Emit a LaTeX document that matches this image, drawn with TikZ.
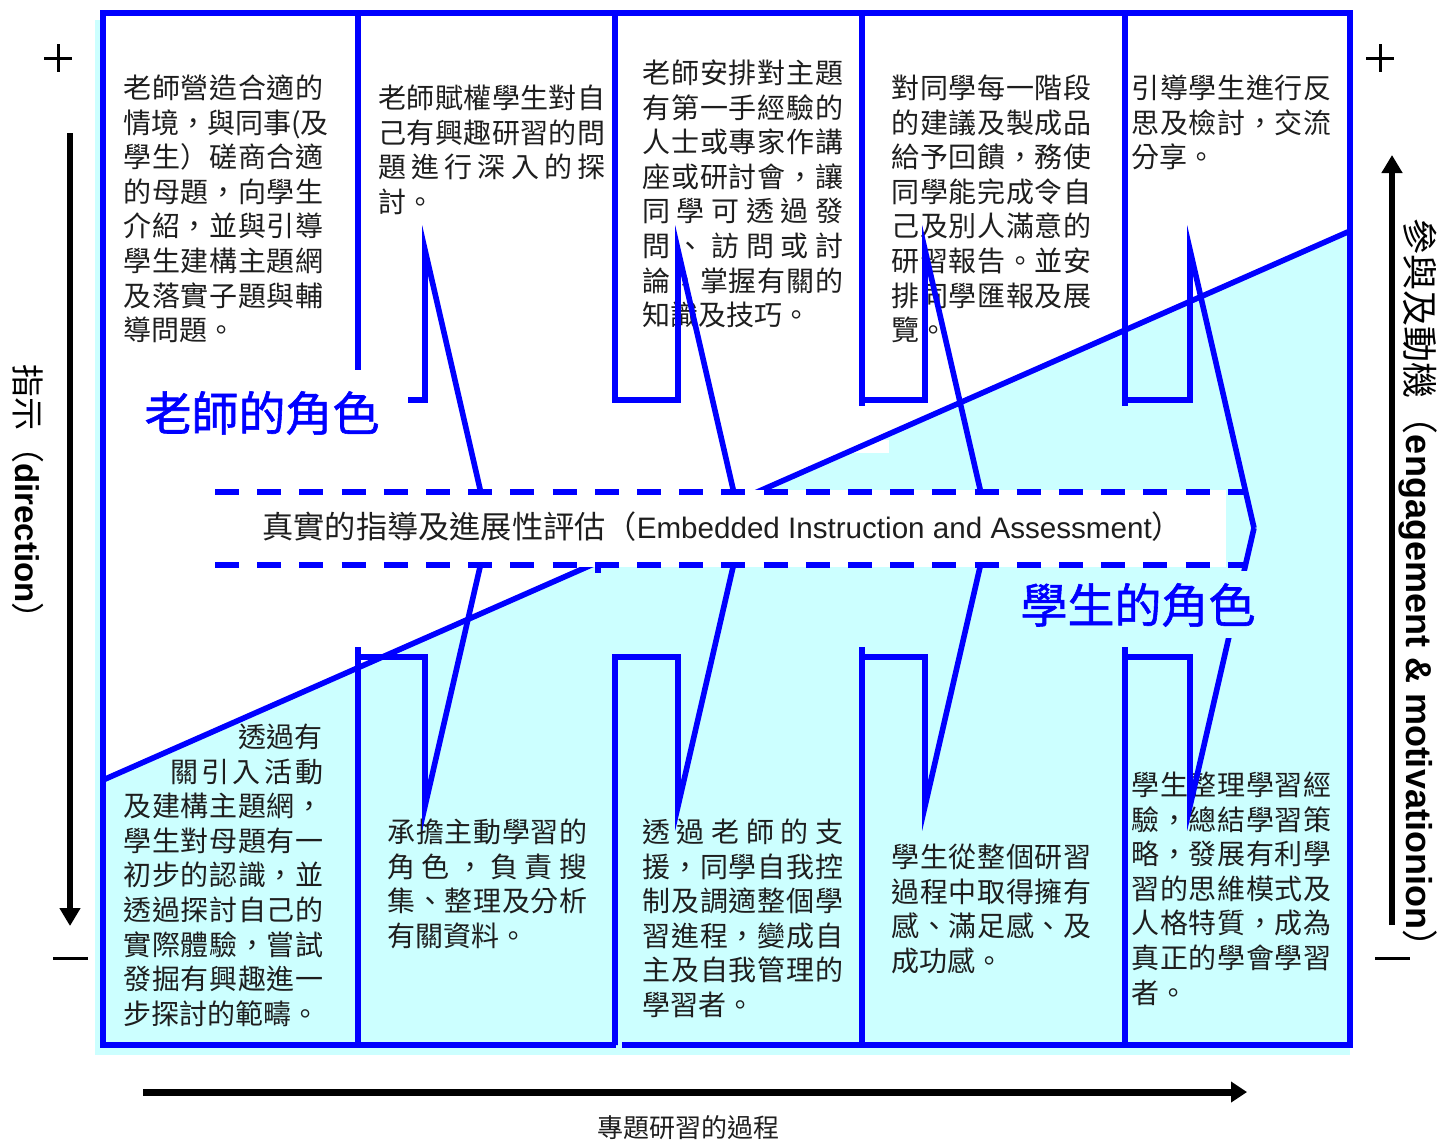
\documentclass[tikz,border=0pt]{standalone}
\usepackage{fontspec}
\setmainfont{Liberation Sans}
\newfontfamily\cjk{Noto Sans CJK TC}
\newfontfamily\cjkm[FakeBold=1.2]{Noto Sans CJK TC}
\usetikzlibrary{arrows.meta}
\definecolor{bl}{RGB}{0,0,255}
\definecolor{cy}{RGB}{204,255,255}
\definecolor{tx}{RGB}{30,30,30}
\makeatletter
\def\sp@loop#1{\ifx\relax#1\else#1\hskip0pt plus 1fil\relax\expandafter\sp@loop\fi}
\newcommand\sline[2]{\hbox to #1{\expandafter\sp@loop#2\relax\unskip}}
\makeatother
\newcommand\tblock[5]{%
  \foreach \t [count=\i from 0] in {#5} {%
    \node[body] (#1\i) at (#2,{#3+34.6*\i}) {\sline{#4}{\t}};}}
\tikzset{
  body/.style={inner sep=0pt, anchor=base west, text=tx, font=\cjk\fontsize{14}{17}\selectfont},
  bline/.style={draw=bl, line width=2.8pt},
  dline/.style={draw=bl, line width=3pt, dash pattern=on 12pt off 9.1pt},
  role/.style={inner sep=0pt, text=bl, font=\cjkm\fontsize{23.5}{26}\selectfont},
  axis/.style={draw=black, line width=3pt},
  sign/.style={draw=black, line width=1.5pt}
}
\begin{document}
\begin{tikzpicture}[x=0.5pt,y=-0.5pt,line join=miter]
\useasboundingbox (0,0) rectangle (1439,1142);
% backgrounds
\fill[cy] (95,20) rectangle (1350,1055);
\fill[white] (103,13) -- (1350,13) -- (1350,231) -- (103,780) -- cycle;
\fill[white] (760,440) rectangle (889,453);
\draw[bline] (103,780) -- (1350,231);

% top texts
\tblock{a}{123}{98.5}{100pt}{老師營造合適的,情境，與同事(及,學生）磋商合適,的母題，向學生,介紹，並與引導,學生建構主題網,及落實子題與輔}
\node[body] (alast) at (123,340.7) {導問題。};
\tblock{b}{378}{108.5}{113.5pt}{老師賦權學生對自,己有興趣研習的問,題進行深入的探}
\node[body] (blast) at (378,212) {討。};
\tblock{c}{642}{83.5}{100.5pt}{老師安排對主題,有第一手經驗的,人士或專家作講,座或研討會，讓,同學可透過發,問、訪問或討,論，掌握有關的}
\node[body] (clast) at (642,325.7) {知識及技巧。};
\tblock{d}{891}{98.5}{100pt}{對同學每一階段,的建議及製成品,給予回饋，務使,同學能完成令自,己及別人滿意的,研習報告。並安,排同學匯報及展}
\node[body] (dlast) at (891,340.7) {覽。};
\tblock{e}{1131}{98.5}{100pt}{引導學生進行反,思及檢討，交流}
\node[body] (elast) at (1131,167.7) {分享。};

% bottom texts
\node[body,anchor=base east] (f0) at (323,747.5) {透過有};
\node[body] (f1) at (170,782.1) {\sline{76.5pt}{關引入活動}};
\tblock{f2-}{123}{816.7}{100pt}{及建構主題網，,學生對母題有一,初步的認識，並,透過探討自己的,實際體驗，嘗試,發掘有興趣進一}
\node[body] (flast) at (123,1024.3) {步探討的範疇。};
\tblock{g}{387}{842.5}{100pt}{承擔主動學習的,角色，負責搜,集、整理及分析}
\node[body] (glast) at (387,946.3) {有關資料。};
\tblock{h}{642}{842.5}{100.5pt}{透過老師的支,援，同學自我控,制及調適整個學,習進程，變成自,主及自我管理的}
\node[body] (hlast) at (642,1015.5) {學習者。};
\tblock{i}{891}{867.5}{100pt}{學生從整個研習,過程中取得擁有,感、滿足感、及}
\node[body] (ilast) at (891,971.3) {成功感。};
\tblock{j}{1131}{795.5}{100pt}{學生整理學習經,驗，總結學習策,略，發展有利學,習的思維模式及,人格特質，成為,真正的學會學習}
\node[body] (jlast) at (1131,1003.1) {者。};

% callout lines, top
\draw[bline] (358,13) -- (358,400) -- (425,400) -- (425,250) -- (489,528);
\draw[bline] (615,13) -- (615,400) -- (678,400) -- (678,250) -- (742,528);
\draw[bline] (862,13) -- (862,406);
\draw[bline] (862,400) -- (925,400) -- (925,250) -- (989,528);
\draw[bline] (1125,13) -- (1125,406);
\draw[bline] (1125,400) -- (1190,400) -- (1190,250) -- (1254,528);
% callout lines, bottom
\draw[bline] (358,647) -- (358,1045);
\draw[bline] (358,657) -- (425,657) -- (425,806) -- (489,528);
\draw[bline] (615,1045) -- (615,657) -- (678,657) -- (678,806) -- (742,528);
\draw[bline] (862,647) -- (862,1045);
\draw[bline] (862,657) -- (925,657) -- (925,806) -- (989,528);
\draw[bline] (1125,647) -- (1125,1045);
\draw[bline] (1125,657) -- (1190,657) -- (1190,806) -- (1254,528);

% frame
\draw[bline] (616,1045) -- (103,1045) -- (103,13) -- (1350,13) -- (1350,1045) -- (622,1045);

% central dashed band
\fill[white] (215,490) rectangle (1226,567);
\draw[dline] (215,492) -- (1245,492);
\draw[dline] (215,565) -- (1245,565);
\draw[bline] (598,565) -- (598,573);
\node[inner sep=0pt, anchor=base west, text=tx] (band) at (262,538)
  {{\cjk\fontsize{15.6}{18}\selectfont 真實的指導及進展性評估（}{\fontsize{14.8}{18}\selectfont Embedded Instruction and Assessment}{\cjk\fontsize{15.6}{18}\selectfont ）}};

% role labels
\fill[white] (128,370) rectangle (408,447);
\node[role] (teacher) at (262,413) {老師的角色};
\fill[cy] (1010,571) rectangle (1265,638);
\node[role] (student) at (1138,605) {學生的角色};

% left axis
\draw[sign] (44,58) -- (72,58) (58,44) -- (58,72);
\draw[axis, -{Triangle[length=9pt,width=10pt]}] (70,133) -- (70,926);
\draw[sign] (53,958) -- (88,958);
\node[rotate=-90, inner sep=0pt, font=\fontsize{16.5}{19}\selectfont] (dir) at (28,500)
  {{\cjk 指示（}{\bfseries direction}{\cjk ）}};
% right axis
\draw[sign] (1366,58) -- (1394,58) (1380,44) -- (1380,72);
\draw[axis, -{Triangle[length=9pt,width=10pt]}] (1392,925) -- (1392,155);
\draw[sign] (1375,958) -- (1410,958);
\node[rotate=-90, inner sep=0pt, font=\fontsize{18}{21}\selectfont] (eng) at (1418,592)
  {{\cjk 參與及動機（}{\bfseries engagement \& motivationion}{\cjk ）}};
% bottom axis
\draw[axis, line width=3.5pt, -{Triangle[length=8pt,width=10pt]}] (143,1092) -- (1247,1092);
\node[inner sep=0pt, text=tx, font=\cjk\fontsize{13}{15}\selectfont] (proc) at (688,1128) {專題研習的過程};
\end{tikzpicture}
\end{document}
